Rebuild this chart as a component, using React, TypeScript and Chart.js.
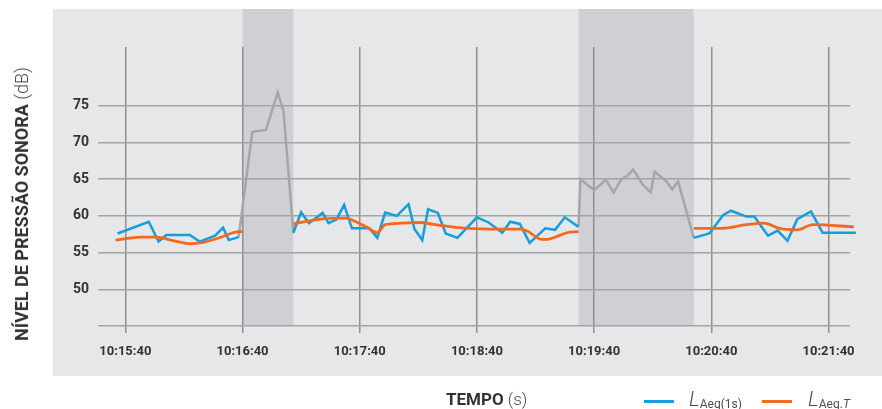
import React, { useEffect, useRef } from "react";
import { Chart, registerables } from "chart.js";

Chart.register(...registerables);

// ---------- data ----------
const startClock = "10:15:40";
const axisStartClock = "10:15:26";
const axisEndClock = "10:21:51";
const xTickClocks = ["10:15:40", "10:16:40", "10:17:40", "10:18:40", "10:19:40", "10:20:40", "10:21:40"];
const yTickValues = [45, 50, 55, 60, 65, 70, 75];
const yMin = 45;
const yMax = 83;

// shaded event periods
const eventBands: [string, string][] = [
  ["10:16:40", "10:17:06"],
  ["10:19:32", "10:20:31"],
];

// L_Aeq(1s) (blue), three segments
const laeq1sTimes1 = ["10:15:36", "10:15:52", "10:15:57", "10:16:01", "10:16:13", "10:16:18", "10:16:26", "10:16:30", "10:16:33", "10:16:38"];
const laeq1sValues1 = [57.6, 59.2, 56.5, 57.4, 57.4, 56.5, 57.3, 58.4, 56.7, 57.1];
const laeq1sTimes2 = ["10:17:06", "10:17:10", "10:17:14", "10:17:21", "10:17:24", "10:17:28", "10:17:32", "10:17:36", "10:17:45", "10:17:49", "10:17:53", "10:17:59", "10:18:05", "10:18:08", "10:18:12", "10:18:15", "10:18:20", "10:18:24", "10:18:30", "10:18:40", "10:18:46", "10:18:53", "10:18:57", "10:19:02", "10:19:07", "10:19:15", "10:19:20", "10:19:25", "10:19:32"];
const laeq1sValues2 = [57.7, 60.5, 59.0, 60.4, 59.0, 59.5, 61.5, 58.3, 58.3, 57.0, 60.45, 60.0, 61.6, 58.2, 56.7, 60.9, 60.4, 57.6, 57.0, 59.8, 59.1, 57.7, 59.2, 58.9, 56.3, 58.3, 58.1, 59.8, 58.5];
const laeq1sTimes3 = ["10:20:31", "10:20:39", "10:20:46", "10:20:50", "10:20:58", "10:21:02", "10:21:09", "10:21:14", "10:21:19", "10:21:24", "10:21:31", "10:21:37", "10:21:54"];
const laeq1sValues3 = [57.0, 57.6, 60.1, 60.7, 59.9, 59.9, 57.3, 58.0, 56.6, 59.55, 60.6, 57.7, 57.7];

// event (grey) segments
const eventTimes1 = ["10:16:38", "10:16:45", "10:16:52", "10:16:58", "10:17:01", "10:17:06"];
const eventValues1 = [57.1, 71.45, 71.7, 76.8, 74.2, 57.7];
const eventTimes2 = ["10:19:32", "10:19:33", "10:19:40", "10:19:46", "10:19:50", "10:19:54", "10:19:57", "10:20:00", "10:20:05", "10:20:09", "10:20:11", "10:20:17", "10:20:20", "10:20:23", "10:20:31"];
const eventValues2 = [58.5, 65.0, 63.5, 64.9, 63.2, 65.0, 65.45, 66.3, 64.2, 63.2, 66.0, 64.7, 63.6, 64.7, 57.0];

// L_Aeq,T (orange), three segments
const laeqTTimes1 = ["10:15:35", "10:15:48", "10:15:56", "10:16:05", "10:16:13", "10:16:20", "10:16:29", "10:16:35", "10:16:40"];
const laeqTValues1 = [56.7, 57.1, 57.1, 56.6, 56.2, 56.4, 57.1, 57.7, 57.9];
const laeqTTimes2 = ["10:17:06", "10:17:20", "10:17:33", "10:17:38", "10:17:44", "10:17:49", "10:17:53", "10:18:01", "10:18:11", "10:18:21", "10:18:35", "10:18:52", "10:19:02", "10:19:06", "10:19:13", "10:19:16", "10:19:21", "10:19:26", "10:19:32"];
const laeqTValues2 = [58.9, 59.55, 59.7, 59.2, 58.4, 57.7, 58.8, 59.0, 59.1, 58.7, 58.3, 58.2, 58.2, 57.9, 56.8, 56.8, 57.2, 57.7, 57.85];
const laeqTTimes3 = ["10:20:31", "10:20:45", "10:20:58", "10:21:07", "10:21:15", "10:21:24", "10:21:32", "10:21:53"];
const laeqTValues3 = [58.3, 58.3, 58.8, 59.0, 58.3, 58.1, 58.8, 58.5];

// ---------- helpers ----------
function clockToSec(c: string): number {
  const [h, m, s] = c.split(":").map(Number);
  return h * 3600 + m * 60 + s;
}
const T0 = clockToSec(startClock);
const rel = (c: string) => clockToSec(c) - T0;
function secToClock(v: number): string {
  const t = Math.round(v + T0);
  const h = Math.floor(t / 3600);
  const m = Math.floor((t % 3600) / 60);
  const s = t % 60;
  const p = (n: number) => String(n).padStart(2, "0");
  return `${h}:${p(m)}:${p(s)}`;
}
function buildPoints(times: string[][], values: number[][]) {
  const pts: { x: number; y: number | null }[] = [];
  times.forEach((seg, i) => {
    if (i > 0) pts.push({ x: rel(seg[0]) - 0.5, y: null });
    seg.forEach((t, j) => pts.push({ x: rel(t), y: values[i][j] }));
  });
  return pts;
}

const BLUE = "#139fdc";
const ORANGE = "#f26a21";
const GREY_LINE = "#a6a6a9";
const PANEL = "#e6e7e8";
const BAND = "#cfd0d4";
const TICK_FONT = "Roboto, 'DejaVu Sans Condensed', sans-serif";
const TEXT_FONT = "Roboto, 'DejaVu Sans', sans-serif";

const backdropPlugin = {
  id: "backdrop",
  beforeDraw(chart: any) {
    const { ctx, chartArea, scales } = chart;
    ctx.save();
    ctx.fillStyle = PANEL;
    ctx.fillRect(53, 9, chart.width - 53, 367);
    ctx.fillStyle = BAND;
    for (const [a, b] of eventBands) {
      const x1 = scales.x.getPixelForValue(rel(a));
      const x2 = scales.x.getPixelForValue(rel(b));
      ctx.fillRect(x1, 9, x2 - x1, chartArea.bottom - 9);
    }
    ctx.restore();
  },
};

export default function App() {
  const canvasRef = useRef<HTMLCanvasElement | null>(null);

  useEffect(() => {
    if (!canvasRef.current) return;
    const chart = new Chart(canvasRef.current, {
      type: "line",
      data: {
        datasets: [
          {
            label: "LAeq(1s)",
            data: buildPoints([laeq1sTimes1, laeq1sTimes2, laeq1sTimes3], [laeq1sValues1, laeq1sValues2, laeq1sValues3]) as any,
            borderColor: BLUE,
            borderWidth: 2.5,
            pointRadius: 0,
            tension: 0,
            spanGaps: false,
            clip: false as any,
            order: 2,
          },
          {
            label: "event",
            data: buildPoints([eventTimes1, eventTimes2], [eventValues1, eventValues2]) as any,
            borderColor: GREY_LINE,
            borderWidth: 2.5,
            pointRadius: 0,
            tension: 0,
            spanGaps: false,
            order: 3,
          },
          {
            label: "LAeq,T",
            data: buildPoints([laeqTTimes1, laeqTTimes2, laeqTTimes3], [laeqTValues1, laeqTValues2, laeqTValues3]) as any,
            borderColor: ORANGE,
            borderWidth: 2.8,
            pointRadius: 0,
            cubicInterpolationMode: "monotone",
            spanGaps: false,
            clip: false as any,
            order: 1,
          },
        ],
      },
      options: {
        responsive: false,
        animation: false,
        events: [],
        layout: { padding: { left: 0, top: 47, right: 32, bottom: 43 } },
        plugins: { legend: { display: false }, tooltip: { enabled: false } },
        scales: {
          x: {
            type: "linear",
            min: rel(axisStartClock),
            max: rel(axisEndClock),
            afterBuildTicks: (scale: any) => {
              scale.ticks = xTickClocks.map((c) => ({ value: rel(c) }));
            },
            afterFit: (scale: any) => {
              scale.height = 40;
            },
            ticks: {
              autoSkip: false,
              maxRotation: 0,
              padding: 11,
              color: "#333333",
              font: { family: TICK_FONT, size: 13, weight: "bold" },
              callback: (v: any) => secToClock(Number(v)),
            },
            grid: { color: "#8f8f91", lineWidth: 1.5, tickLength: 7, drawTicks: true },
            border: { display: false },
          },
          y: {
            type: "linear",
            min: yMin,
            max: yMax,
            afterBuildTicks: (scale: any) => {
              scale.ticks = yTickValues.map((v) => ({ value: v }));
            },
            afterFit: (scale: any) => {
              scale.width = 98;
            },
            ticks: {
              padding: 9,
              color: "#333333",
              font: { family: TICK_FONT, size: 14, weight: "bold" },
              callback: (v: any) => (Number(v) === yMin ? "" : String(v)),
            },
            grid: { color: "#a3a4a6", lineWidth: 1.5, drawTicks: false },
            border: { display: false },
          },
        },
      },
      plugins: [backdropPlugin],
    } as any);
    return () => chart.destroy();
  }, []);

  return (
    <div style={{ position: "fixed", left: 0, top: 0, width: 882, height: 409, background: "#ffffff", overflow: "hidden" }}>
      <canvas ref={canvasRef} width={882} height={409} style={{ position: "absolute", left: 0, top: 0, width: 882, height: 409 }} />
      <div
        style={{
          position: "absolute",
          left: 22,
          top: 204,
          transform: "translate(-50%, -50%) rotate(-90deg)",
          whiteSpace: "nowrap",
          fontFamily: TEXT_FONT,
          fontSize: 18,
          lineHeight: "18px",
          color: "#333333",
        }}
      >
        <span style={{ fontWeight: 700 }}>NÍVEL DE PRESSÃO SONORA</span>
        <span style={{ fontWeight: 300, color: "#4d4d4f" }}> (dB)</span>
      </div>
      <div
        style={{
          position: "absolute",
          left: 446,
          top: 391,
          whiteSpace: "nowrap",
          fontFamily: TEXT_FONT,
          fontSize: 17,
          lineHeight: "17px",
          color: "#333333",
        }}
      >
        <span style={{ fontWeight: 700 }}>TEMPO</span>
        <span style={{ fontWeight: 300, color: "#4d4d4f" }}> (s)</span>
      </div>
      <div style={{ position: "absolute", left: 644, top: 400, width: 30, height: 3, background: BLUE }} />
      <div style={{ position: "absolute", left: 689, top: 389, whiteSpace: "nowrap", fontFamily: TEXT_FONT, lineHeight: "20px", color: "#4d4d4f" }}>
        <span style={{ fontStyle: "italic", fontWeight: 300, fontSize: 21 }}>L</span>
        <span style={{ fontSize: 12, position: "relative", top: 2 }}>Aeq(1s)</span>
      </div>
      <div style={{ position: "absolute", left: 762, top: 400, width: 30, height: 3, background: ORANGE }} />
      <div style={{ position: "absolute", left: 808, top: 389, whiteSpace: "nowrap", fontFamily: TEXT_FONT, lineHeight: "20px", color: "#4d4d4f" }}>
        <span style={{ fontStyle: "italic", fontWeight: 300, fontSize: 21 }}>L</span>
        <span style={{ fontSize: 12, position: "relative", top: 2 }}>
          Aeq.<i>T</i>
        </span>
      </div>
    </div>
  );
}
